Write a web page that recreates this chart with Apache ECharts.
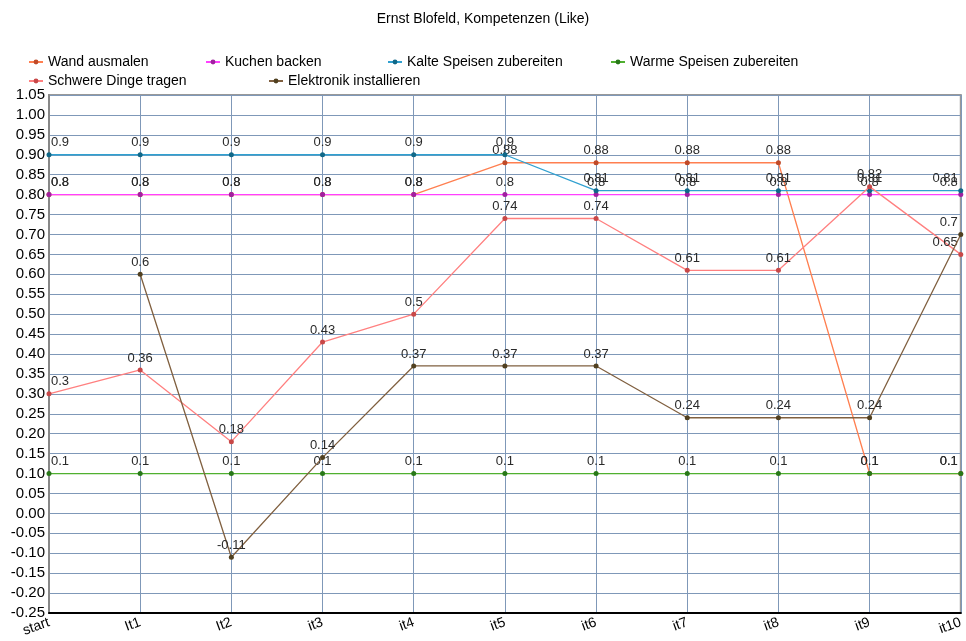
<!DOCTYPE html>
<html>
<head>
<meta charset="utf-8">
<script src="https://cdn.jsdelivr.net/npm/echarts@6/dist/echarts.min.js"></script>
<style>
  html, body { margin: 0; padding: 0; background: #fff; }
  #chart { width: 966px; height: 641px; }
</style>
</head>
<body>
<div id="chart"></div>
<script>
// Iteration steps on the x axis
const categories = ['start', 'It1', 'It2', 'it3', 'it4', 'it5', 'it6', 'it7', 'it8', 'it9', 'it10'];

// Competence values per iteration
const wandAusmalen      = [0.8, 0.8, 0.8, 0.8, 0.8, 0.88, 0.88, 0.88, 0.88, 0.1, 0.1];
const kuchenBacken      = [0.8, 0.8, 0.8, 0.8, 0.8, 0.8, 0.8, 0.8, 0.8, 0.8, 0.8];
const kalteSpeisen      = [0.9, 0.9, 0.9, 0.9, 0.9, 0.9, 0.81, 0.81, 0.81, 0.81, 0.81];
const warmeSpeisen      = [0.1, 0.1, 0.1, 0.1, 0.1, 0.1, 0.1, 0.1, 0.1, 0.1, 0.1];
const schwereDinge      = [0.3, 0.36, 0.18, 0.43, 0.5, 0.74, 0.74, 0.61, 0.61, 0.82, 0.65];
const elektronik        = [null, 0.6, -0.11, 0.14, 0.37, 0.37, 0.37, 0.24, 0.24, 0.24, 0.7];

const seriesNames = ['Wand ausmalen', 'Kuchen backen', 'Kalte Speisen zubereiten',
  'Warme Speisen zubereiten', 'Schwere Dinge tragen', 'Elektronik installieren'];
const seriesValues = [wandAusmalen, kuchenBacken, kalteSpeisen, warmeSpeisen, schwereDinge, elektronik];
const lineColors   = ['#ff7f50', '#ff40ff', '#30a0d0', '#50b030', '#ff8080', '#806040'];
const markerColors = ['#c04a28', '#a020a0', '#106888', '#287818', '#c84848', '#504020'];

// Legend item positions (two rows)
const legendPos = [[23, 50], [200, 50], [382, 50], [605, 50], [23, 69], [263, 69]];

const last = categories.length - 1;

function toData(arr) {
  return arr.map((v, i) => {
    if (v === null) return null;
    const item = { value: v };
    if (i === 0) item.label = { align: 'left', offset: [2, 0] };
    else if (i === last) item.label = { align: 'right', offset: [-3, 0] };
    return item;
  });
}

const series = seriesNames.map((name, k) => ({
  name: name,
  type: 'line',
  data: toData(seriesValues[k]),
  symbol: 'circle',
  symbolSize: 5,
  showAllSymbol: true,
  lineStyle: { color: lineColors[k], width: 1.3 },
  itemStyle: { color: markerColors[k], borderWidth: 0 },
  label: {
    show: true,
    position: 'top',
    distance: 3,
    color: '#2a2a2a',
    fontSize: 13,
    fontFamily: 'Liberation Sans, Arial, sans-serif',
    formatter: p => String(p.value)
  },
  emphasis: { disabled: true },
  animation: false,
  z: 3 + k
}));

const legends = seriesNames.map((name, k) => ({
  left: legendPos[k][0],
  top: legendPos[k][1],
  data: [name],
  itemWidth: 14,
  itemHeight: 6,
  itemGap: 0,
  textStyle: { fontSize: 14, color: '#000', fontFamily: 'Liberation Sans, Arial, sans-serif' },
  selectedMode: false
}));

const chart = echarts.init(document.getElementById('chart'), null, { renderer: 'canvas' });
chart.setOption({
  backgroundColor: '#fff',
  animation: false,
  title: {
    text: 'Ernst Blofeld, Kompetenzen (Like)',
    left: 'center',
    top: 7,
    textStyle: { fontSize: 14, fontWeight: 'normal', color: '#000', fontFamily: 'Liberation Sans, Arial, sans-serif' }
  },
  legend: legends,
  grid: {
    left: 49, right: 5, top: 95, bottom: 28,
    show: true,
    borderColor: '#999',
    borderWidth: 2
  },
  xAxis: {
    type: 'category',
    data: categories,
    boundaryGap: false,
    axisLine: { onZero: false, lineStyle: { color: '#000', width: 2 } },
    axisTick: { show: false },
    axisLabel: {
      rotate: 20,
      color: '#000',
      fontSize: 14,
      margin: 9,
      interval: 0,
      fontFamily: 'Liberation Sans, Arial, sans-serif'
    },
    splitLine: { show: true, lineStyle: { color: '#7f98b8', width: 1 } }
  },
  yAxis: {
    type: 'value',
    min: -0.25,
    max: 1.05,
    interval: 0.05,
    axisLine: { show: true, lineStyle: { color: '#888', width: 2 } },
    axisTick: { show: false },
    axisLabel: {
      color: '#000',
      fontSize: 15,
      margin: 4,
      fontFamily: 'Liberation Sans, Arial, sans-serif',
      formatter: v => v.toFixed(2)
    },
    splitLine: { show: true, lineStyle: { color: '#7f98b8', width: 1 } }
  },
  series: series
});
</script>
</body>
</html>
